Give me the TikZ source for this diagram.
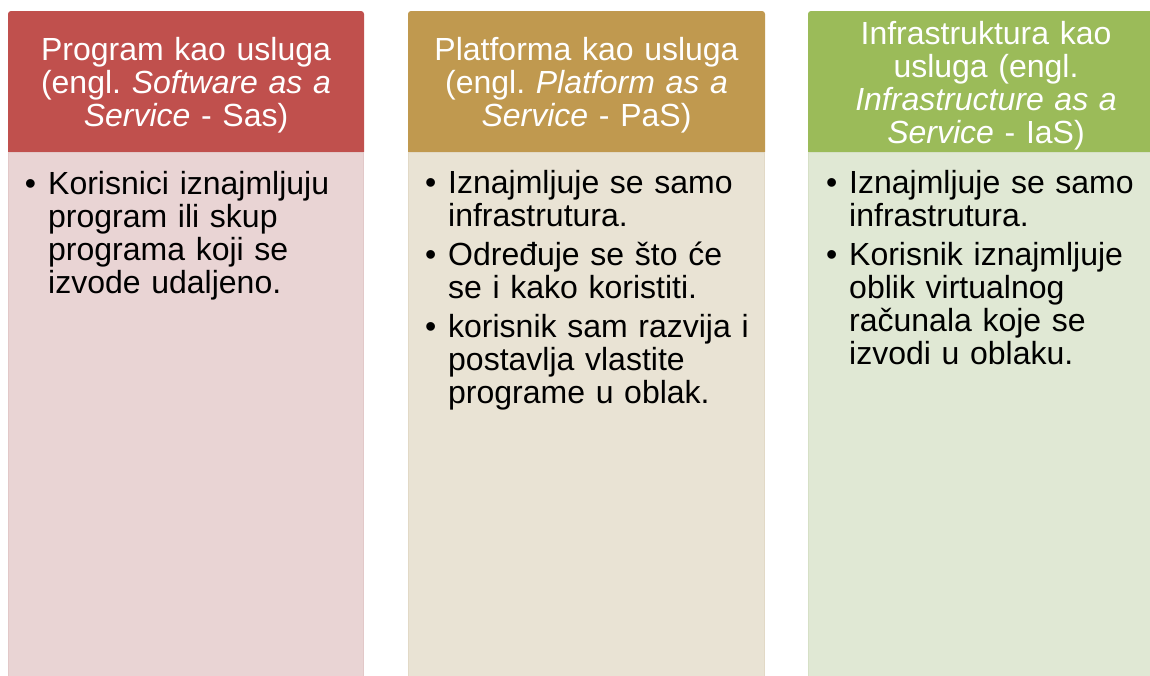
\documentclass[tikz,border=0pt]{standalone}
\usepackage{fontspec}
\setmainfont{Liberation Sans}
\frenchspacing
\definecolor{redH}{HTML}{C0504D}
\definecolor{tanH}{HTML}{C0994F}
\definecolor{greenH}{HTML}{9BBB59}
\definecolor{redB}{HTML}{E9D4D4}
\definecolor{tanB}{HTML}{E9E3D4}
\definecolor{greenB}{HTML}{E0E8D4}
\definecolor{redL}{HTML}{E2C8C8}
\definecolor{tanL}{HTML}{E2D9C6}
\definecolor{greenL}{HTML}{D6E0C6}
\tikzset{
  headtext/.style={text=white, text width=350pt, align=center, inner sep=0pt, anchor=base,
    font=\fontsize{32pt}{33pt}\selectfont\frenchspacing},
  bodytext/.style={text=black, text width=310pt, align=left, inner sep=0pt, anchor=base west,
    font=\fontsize{32pt}{33pt}\selectfont\frenchspacing},
  bodybox/.style={line width=1pt},
}
\newcommand{\bul}{\leavevmode\llap{•\hspace{12pt}}}
\begin{document}
\begin{tikzpicture}[x=1pt,y=-1pt]
\useasboundingbox (0,0) rectangle (1150,675);
\clip (0,0) rectangle (1150,675);
\fill[white] (0,0) rectangle (1150,675);
% column 1
\fill[redH] (8,152) [rounded corners=3pt] -- (8,11) -- (364,11) [sharp corners] -- (364,152) -- cycle;
\filldraw[bodybox, fill=redB, draw=redL] (8.5,152) rectangle (363.5,680);
% column 2
\fill[tanH] (408,152) [rounded corners=3pt] -- (408,11) -- (765,11) [sharp corners] -- (765,152) -- cycle;
\filldraw[bodybox, fill=tanB, draw=tanL] (408.5,152) rectangle (764.5,680);
% column 3
\fill[greenH] (808,152) [rounded corners=3pt] -- (808,11) -- (1164,11) [sharp corners] -- (1164,152) -- cycle;
\filldraw[bodybox, fill=greenB, draw=greenL] (808.5,152) rectangle (1163.5,680);
% header texts
\node[headtext] (h1) at (186,60) {Program kao usluga\\(engl. \textit{Software as a}\\\textit{Service} - Sas)};
\node[headtext] (h2) at (586.5,60) {Platforma kao usluga\\(engl. \textit{Platform as a}\\\textit{Service} - PaS)};
\node[headtext] (h3) at (986,44.5) {Infrastruktura kao\\usluga (engl.\\\textit{Infrastructure as a}\\\textit{Service} - IaS)};
% body texts
\node[bodytext] (b1) at (48,194.5) {\bul Korisnici iznajmljuju\\program ili skup\\programa koji se\\izvode udaljeno.};
\node[bodytext] (b2) at (448,193) {\bul Iznajmljuje se samo\\infrastrutura.\\[6pt]\bul Određuje se što će\\se i kako koristiti.\\[6pt]\bul korisnik sam razvija i\\postavlja vlastite\\programe u oblak.};
\node[bodytext] (b3) at (849,193) {\bul Iznajmljuje se samo\\infrastrutura.\\[6pt]\bul Korisnik iznajmljuje\\oblik virtualnog\\računala koje se\\izvodi u oblaku.};
\end{tikzpicture}
\end{document}
